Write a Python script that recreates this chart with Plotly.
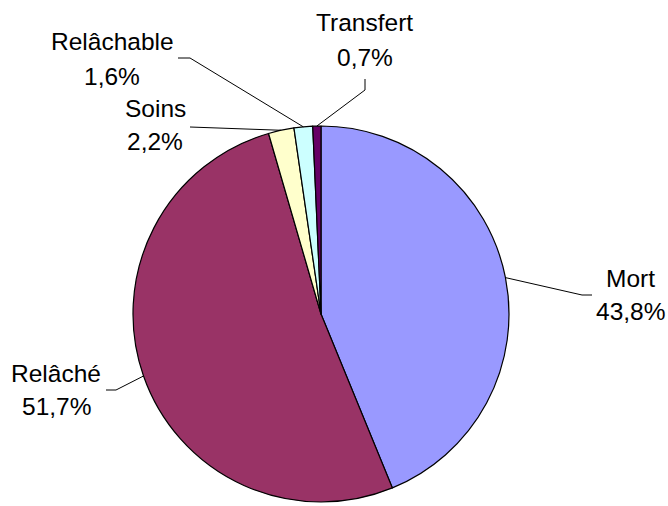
import math
import plotly.graph_objects as go

# data
labels = ['Mort', 'Relâché', 'Soins', 'Relâchable', 'Transfert']
values = [43.8, 51.7, 2.2, 1.6, 0.7]
value_text = ['43,8%', '51,7%', '2,2%', '1,6%', '0,7%']
colors = ['#9999FF', '#993366', '#FFFFCC', '#CCFFFF', '#660066']

W, H = 668, 506
cx, cy, r = 321, 314, 188  # pie centre / radius in pixels

# label placement (pixels): name centre x, name y, value y, elbow, line end
label_pos = {
    'Mort':       dict(x=630, y1=278, y2=311, elbow=(582, 295), end=(592, 295)),
    'Relâché':    dict(x=56, y1=373, y2=406, elbow=(116, 390), end=(106, 390)),
    'Soins':      dict(x=155, y1=109, y2=142, elbow=None, end=(190, 127)),
    'Relâchable': dict(x=112, y1=42, y2=76, elbow=(190, 58), end=(178, 58)),
    'Transfert':  dict(x=365, y1=23, y2=57, elbow=(365, 90), end=(365, 79)),
}


def px(x, y):
    return x / W, 1 - y / H


fig = go.Figure(go.Pie(
    labels=labels,
    values=values,
    sort=False,
    direction='clockwise',
    rotation=0,
    marker=dict(colors=colors, line=dict(color='black', width=1.2)),
    textinfo='none',
    hoverinfo='label+percent',
    domain=dict(x=[(cx - r) / W, (cx + r) / W], y=[(H - cy - r) / H, (H - cy + r) / H]),
))

font = dict(family='Liberation Sans, Arial, sans-serif', size=24.5, color='black')
total = sum(values)
cum = 0
for lab, val, vt in zip(labels, values, value_text):
    mid = (cum + val / 2) / total * 2 * math.pi
    cum += val
    ex = cx + r * math.sin(mid)
    ey = cy - r * math.cos(mid)
    p = label_pos[lab]
    pts = [(ex, ey)]
    if p['elbow']:
        pts.append(p['elbow'])
    pts.append(p['end'])
    for (x0, y0), (x1, y1) in zip(pts[:-1], pts[1:]):
        a, b = px(x0, y0)
        c, d = px(x1, y1)
        fig.add_shape(type='line', xref='paper', yref='paper', x0=a, y0=b, x1=c, y1=d,
                      line=dict(color='black', width=1))
    for txt, yy in ((lab, p['y1']), (vt, p['y2'])):
        ax_, ay_ = px(p['x'], yy)
        fig.add_annotation(x=ax_, y=ay_, xref='paper', yref='paper', text=txt,
                           showarrow=False, font=font, xanchor='center', yanchor='middle')

fig.update_layout(
    width=W, height=H,
    margin=dict(l=0, r=0, t=0, b=0),
    showlegend=False,
    paper_bgcolor='white',
    plot_bgcolor='white',
)

fig.write_html("out.html", config={'displayModeBar': False},
               post_script="document.body.style.margin='0';")
